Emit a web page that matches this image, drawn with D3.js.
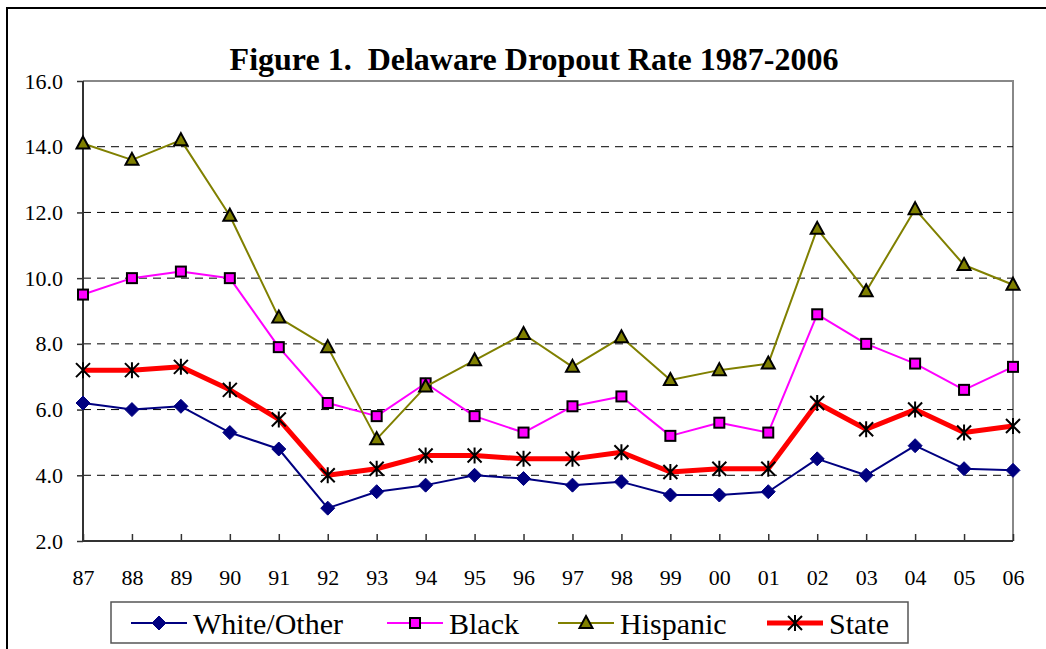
<!DOCTYPE html>
<html>
<head>
<meta charset="utf-8">
<script src="https://cdn.jsdelivr.net/npm/d3@7/dist/d3.min.js"></script>
<style>
  body { margin: 0; background: #fff; }
  svg { display: block; }
</style>
</head>
<body>
<script>
// Delaware dropout rate, school years 1987-2006
var years = ["87","88","89","90","91","92","93","94","95","96","97","98","99","00","01","02","03","04","05","06"];
var white = [6.2, 6.0, 6.1, 5.3, 4.8, 3.0, 3.5, 3.7, 4.0, 3.9, 3.7, 3.8, 3.4, 3.4, 3.5, 4.5, 4.0, 4.9, 4.2, 4.15];
var black = [9.5, 10.0, 10.2, 10.0, 7.9, 6.2, 5.8, 6.8, 5.8, 5.3, 6.1, 6.4, 5.2, 5.6, 5.3, 8.9, 8.0, 7.4, 6.6, 7.3];
var hispanic = [14.1, 13.6, 14.2, 11.9, 8.8, 7.9, 5.1, 6.7, 7.5, 8.3, 7.3, 8.2, 6.9, 7.2, 7.4, 11.5, 9.6, 12.1, 10.4, 9.8];
var state = [7.2, 7.2, 7.3, 6.6, 5.7, 4.0, 4.2, 4.6, 4.6, 4.5, 4.5, 4.7, 4.1, 4.2, 4.2, 6.2, 5.4, 6.0, 5.3, 5.5];
var yTicks = [2, 4, 6, 8, 10, 12, 14, 16];

window.onload = function() {
    var series = [
        {name: "White/Other", values: white, colour: "#000080", width: 2, marker: "diamond"},
        {name: "Black", values: black, colour: "#ff00ff", width: 2, marker: "square"},
        {name: "Hispanic", values: hispanic, colour: "#808000", width: 2, marker: "triangle"},
        {name: "State", values: state, colour: "#ff0000", width: 5, marker: "star"}
    ];

    var W = 1046, H = 649;
    var plotLeft = 83, plotRight = 1013, plotTop = 81, plotBottom = 541;
    var font = "'Liberation Serif', 'Times New Roman', serif";

    var svg = d3.select("body").append("svg")
        .attr("width", W)
        .attr("height", H);

    // outer chart frame
    svg.append("rect")
        .attr("x", 7).attr("y", 8).attr("width", 1200).attr("height", 800)
        .attr("fill", "#fff").attr("stroke", "#000").attr("stroke-width", 2);

    var x = d3.scalePoint().domain(years).range([plotLeft, plotRight]);
    var y = d3.scaleLinear().domain([2, 16]).range([plotBottom, plotTop]);

    // title
    svg.append("text")
        .attr("x", 534).attr("y", 70)
        .attr("text-anchor", "middle")
        .attr("font-family", font)
        .attr("font-weight", "bold")
        .attr("font-size", "32px")
        .attr("xml:space", "preserve")
        .text("Figure 1.  Delaware Dropout Rate 1987-2006");

    // plot border (top / right)
    svg.append("path")
        .attr("d", "M" + plotLeft + "," + plotTop + "H" + plotRight + "V" + plotBottom)
        .attr("fill", "none").attr("stroke", "#888").attr("stroke-width", 2);

    // dashed gridlines
    svg.append("g").selectAll("line")
        .data(yTicks.filter(function(d) { return d > 2 && d < 16; }))
        .enter().append("line")
        .attr("x1", plotLeft).attr("x2", plotRight)
        .attr("y1", function(d) { return y(d); })
        .attr("y2", function(d) { return y(d); })
        .attr("stroke", "#000").attr("stroke-width", 1)
        .attr("stroke-dasharray", "8,6");

    // axes
    var yAxis = svg.append("g")
        .attr("transform", "translate(" + plotLeft + ",0)")
        .call(d3.axisLeft(y).tickValues(yTicks).tickFormat(d3.format(".1f")).tickSize(6).tickPadding(14));

    var xAxis = svg.append("g")
        .attr("transform", "translate(0," + plotBottom + ")")
        .call(d3.axisBottom(x).tickSize(-7).tickPadding(28));

    [yAxis, xAxis].forEach(function(g) {
        g.select(".domain").attr("stroke", "#333").attr("stroke-width", 2);
        g.selectAll(".tick line").attr("stroke", "#333").attr("stroke-width", 1.5);
        g.selectAll("text")
            .attr("font-family", font)
            .attr("font-size", "22px")
            .attr("fill", "#000");
    });
    xAxis.select(".domain").attr("d", "M" + plotLeft + ",0H" + plotRight);
    yAxis.select(".domain").attr("d", "M0," + plotTop + "V" + plotBottom);

    // markers
    function drawMarker(g, type) {
        if (type == "diamond") {
            g.append("path").attr("d", "M0,-7L7,0L0,7L-7,0Z")
                .attr("fill", "#000080").attr("stroke", "#000080").attr("stroke-width", 1);
        } else if (type == "square") {
            g.append("rect").attr("x", -5).attr("y", -5).attr("width", 10).attr("height", 10)
                .attr("fill", "#ff00ff").attr("stroke", "#000").attr("stroke-width", 2);
        } else if (type == "triangle") {
            g.append("path").attr("d", "M0,-7L6.5,5L-6.5,5Z")
                .attr("fill", "#808000").attr("stroke", "#000").attr("stroke-width", 2);
        } else {
            g.append("path").attr("d", "M-7,-7L7,7M-7,7L7,-7M0,-8V8")
                .attr("fill", "none").attr("stroke", "#000").attr("stroke-width", 2);
        }
    }

    var line = d3.line()
        .x(function(d, i) { return x(years[i]); })
        .y(function(d) { return y(d); });

    series.forEach(function(s) {
        svg.append("path")
            .datum(s.values)
            .attr("d", line)
            .attr("fill", "none")
            .attr("stroke", s.colour)
            .attr("stroke-width", s.width)
            .attr("stroke-linejoin", "round");

        svg.append("g").selectAll("g")
            .data(s.values)
            .enter().append("g")
            .attr("transform", function(d, i) { return "translate(" + x(years[i]) + "," + y(d) + ")"; })
            .each(function() { drawMarker(d3.select(this), s.marker); });
    });

    // legend
    var legend = svg.append("g");
    legend.append("rect")
        .attr("x", 111).attr("y", 602).attr("width", 797).attr("height", 41)
        .attr("fill", "#fff").attr("stroke", "#555").attr("stroke-width", 1.5);

    var legendX = [131, 387, 558, 767];
    var item = legend.selectAll("g.item")
        .data(series)
        .enter().append("g")
        .attr("class", "item")
        .attr("transform", function(d, i) { return "translate(" + legendX[i] + ",623)"; });

    item.append("line")
        .attr("x1", 0).attr("x2", 56)
        .attr("stroke", function(d) { return d.colour; })
        .attr("stroke-width", function(d) { return d.width; });

    item.append("g")
        .attr("transform", "translate(28,0)")
        .each(function(d) { drawMarker(d3.select(this), d.marker); });

    item.append("text")
        .attr("x", 62).attr("y", 11)
        .attr("font-family", font)
        .attr("font-size", "30px")
        .text(function(d) { return d.name; });
};
</script>
</body>
</html>
